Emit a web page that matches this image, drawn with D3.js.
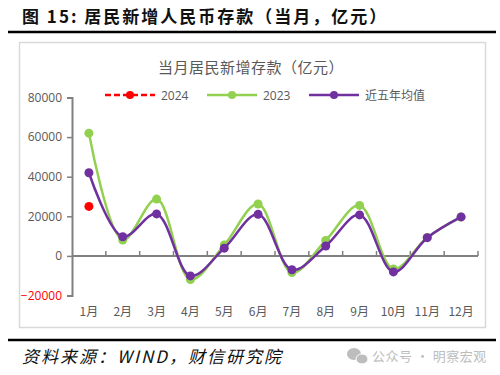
<!DOCTYPE html>
<html><head><meta charset="utf-8">
<script src="https://cdn.jsdelivr.net/npm/d3@7"></script>
<style>body{margin:0;background:#fff;} svg{display:block;}</style>
</head><body>
<script>
const months = ["1月","2月","3月","4月","5月","6月","7月","8月","9月","10月","11月","12月"];
const s2024 = [25000];
const s2023 = [62000, 8000, 28700, -11900, 5500, 26200, -8400, 7800, 25500, -6600, 9300, 19600];
const sAvg = [42000, 9700, 21200, -10100, 3900, 21000, -7000, 5000, 20700, -8100, 9200, 19700];
const yTicks = [-20000, 0, 20000, 40000, 60000, 80000];
const seriesNames = ["2024", "2023", "近五年均值"];
const colors = ["#FF0000", "#92D050", "#7030A0"];

const W = 500, H = 375;
const svg = d3.select("body").append("svg").attr("width", W).attr("height", H);
const cjk = "'Noto Sans CJK SC', 'Noto Sans', sans-serif";

// header
svg.append("text").attr("x", 22).attr("y", 23).attr("font-family", cjk)
  .attr("font-size", 17).attr("font-weight", "bold").attr("fill", "#111")
  .attr("letter-spacing", 2)
  .text("图 15: 居民新增人民币存款（当月，亿元）");
svg.append("line").attr("x1", 8).attr("x2", 496).attr("y1", 32).attr("y2", 32)
  .attr("stroke", "#000").attr("stroke-width", 2.5);

// chart box
svg.append("rect").attr("x", 19.5).attr("y", 42.5).attr("width", 466).attr("height", 285)
  .attr("fill", "#fff").attr("stroke", "#d9d9d9").attr("stroke-width", 1.5);

svg.append("text").attr("x", 251).attr("y", 73).attr("text-anchor", "middle")
  .attr("font-family", cjk).attr("font-size", 15).attr("fill", "#595959")
  .attr("letter-spacing", 0.5)
  .text("当月居民新增存款（亿元）");

const x = d3.scaleBand().domain(months).range([72, 478]);
const y = d3.scaleLinear().domain([-20000, 80000]).range([295.5, 97.5]);

// y axis
const yAxis = svg.append("g").attr("transform", "translate(72,0)")
  .call(d3.axisLeft(y).tickValues(yTicks).tickSize(5).tickPadding(5).tickFormat(d3.format("d")));
yAxis.select(".domain").attr("stroke", "#808080").attr("stroke-width", 2);
yAxis.selectAll(".tick line").attr("stroke", "#808080").attr("stroke-width", 1.5);
yAxis.selectAll(".tick text").attr("font-family", "'Open Sans', sans-serif").attr("font-size", 12)
  .attr("fill", d => d < 0 ? "#FF0000" : "#595959");

// x axis at zero
const xAxisG = svg.append("g");
xAxisG.append("line").attr("x1", 72).attr("x2", 478).attr("y1", y(0)).attr("y2", y(0))
  .attr("stroke", "#808080").attr("stroke-width", 2);
months.forEach((m, i) => {
  const bx = x(m) + x.bandwidth();
  xAxisG.append("line").attr("x1", bx).attr("x2", bx).attr("y1", y(0)).attr("y2", y(0) - 5)
    .attr("stroke", "#808080").attr("stroke-width", 1.5);
});
svg.append("g").selectAll("text").data(months).join("text")
  .attr("x", d => x(d) + x.bandwidth() / 2).attr("y", 316).attr("text-anchor", "middle")
  .attr("font-family", cjk).attr("font-size", 12).attr("fill", "#595959").text(d => d);

const cx = (d, i) => x(months[i]) + x.bandwidth() / 2;
const line = d3.line().x(cx).y(d => y(d)).curve(d3.curveCatmullRom.alpha(0.5));

[[s2023, 1], [sAvg, 2]].forEach(([data, ci]) => {
  svg.append("path").datum(data).attr("d", line).attr("fill", "none")
    .attr("stroke", colors[ci]).attr("stroke-width", 2.5);
  svg.append("g").selectAll("circle").data(data).join("circle")
    .attr("cx", cx).attr("cy", d => y(d)).attr("r", 4.5).attr("fill", colors[ci]);
});
svg.append("g").selectAll("circle").data(s2024).join("circle")
  .attr("cx", cx).attr("cy", d => y(d)).attr("r", 4.5).attr("fill", colors[0]);

// legend
const legX = [105, 207, 309];
seriesNames.forEach((n, i) => {
  const g = svg.append("g").attr("transform", `translate(${legX[i]},95)`);
  g.append("line").attr("x1", 0).attr("x2", 50).attr("y1", 0).attr("y2", 0)
    .attr("stroke", colors[i]).attr("stroke-width", 2.5)
    .attr("stroke-dasharray", i === 0 ? "6,3" : null);
  g.append("circle").attr("cx", 25).attr("cy", 0).attr("r", 4).attr("fill", colors[i]);
  g.append("text").attr("x", 56).attr("y", 4.5).attr("font-family", i === 2 ? cjk : "'Open Sans', sans-serif")
    .attr("font-size", 12).attr("fill", "#595959").text(n);
});

// footer
svg.append("line").attr("x1", 8).attr("x2", 496).attr("y1", 340).attr("y2", 340)
  .attr("stroke", "#000").attr("stroke-width", 2.5);
svg.append("text").attr("x", 22).attr("y", 363).attr("font-family", cjk)
  .attr("font-size", 17).attr("font-style", "italic").attr("fill", "#111")
  .attr("letter-spacing", 2)
  .text("资料来源：WIND，财信研究院");
// watermark
const wm = svg.append("g").attr("transform", "translate(358,356)").attr("fill", "#bdbdbd");
wm.append("ellipse").attr("cx", -4).attr("cy", -2).attr("rx", 7).attr("ry", 6);
wm.append("ellipse").attr("cx", 4).attr("cy", 3).attr("rx", 6).attr("ry", 5).attr("stroke", "#fff").attr("stroke-width", 1);
svg.append("text").attr("x", 372).attr("y", 361).attr("font-family", cjk)
  .attr("font-size", 13).attr("fill", "#bdbdbd").attr("letter-spacing", 0.5).text("公众号 · 明察宏观");
</script>
</body></html>
